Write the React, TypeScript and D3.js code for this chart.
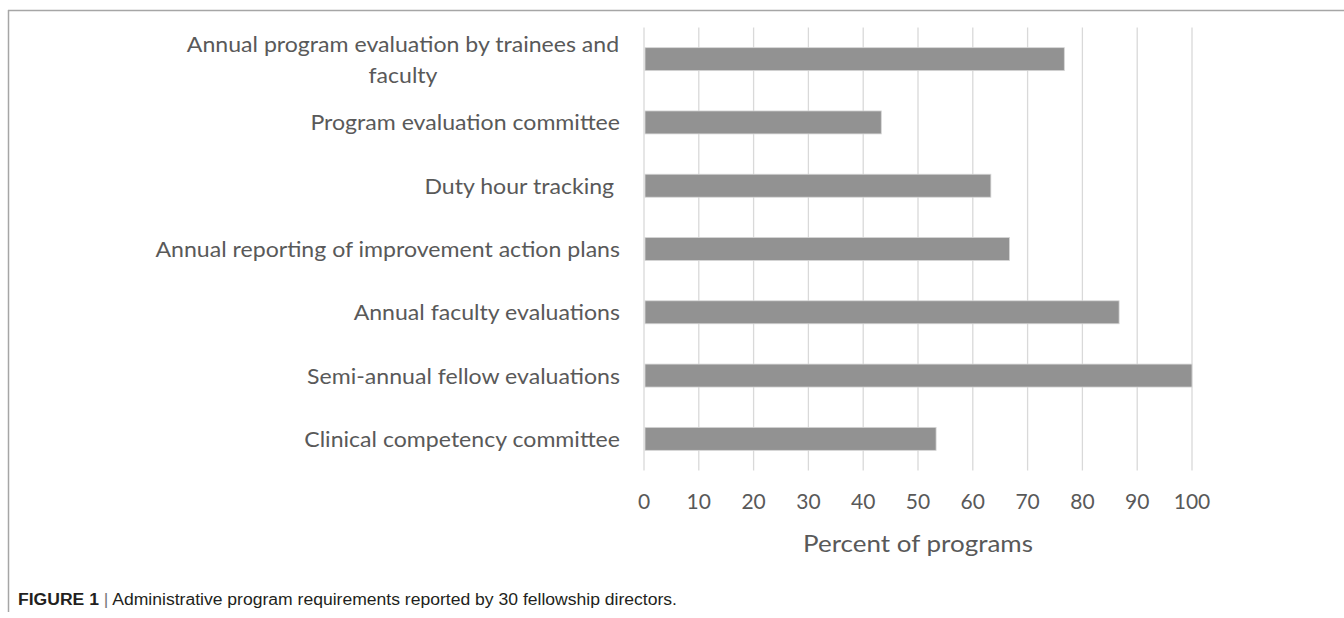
import React from "react";
import * as d3 from "d3";

const categories = [
  "Annual program evaluation by trainees and\nfaculty",
  "Program evaluation committee",
  "Duty hour tracking ",
  "Annual reporting of improvement action plans",
  "Annual faculty evaluations",
  "Semi-annual fellow evaluations",
  "Clinical competency committee",
];
const values = [76.7, 43.3, 63.3, 66.7, 86.7, 100, 53.3];
const xTicks = [0, 10, 20, 30, 40, 50, 60, 70, 80, 90, 100];
const xTitle = "Percent of programs";
const captionBold = "FIGURE 1";
const captionText = "Administrative program requirements reported by 30 fellowship directors.";

const W = 1344;
const H = 618;
const labelFont = "Lato, 'Open Sans', sans-serif";
const textColor = "#595959";
// the source figure is a bit stretched sideways
const labelStretch = 1.05;
const titleStretch = 1.13;

export default function App() {
  const x = d3.scaleLinear().domain([0, 100]).range([644, 1192]);
  const y = d3
    .scaleBand()
    .domain(categories)
    .range([27.5, 470.5])
    .paddingInner(0.637)
    .paddingOuter(0.3185);
  const bw = y.bandwidth();
  const labelRight = 620;
  const blockCenter = 403;

  return (
    <svg
      width={W}
      height={H}
      style={{ position: "absolute", left: 0, top: 0, background: "#fff" }}
    >
      {/* chart frame */}
      <line x1={8} x2={W} y1={10.5} y2={10.5} stroke="#a6a6a6" strokeWidth={1.5} />
      <line x1={8.5} x2={8.5} y1={10} y2={612} stroke="#a6a6a6" strokeWidth={1.5} />

      {/* grid */}
      <g>
        {xTicks.map((t) => (
          <line
            key={t}
            x1={x(t)}
            x2={x(t)}
            y1={27.5}
            y2={470.5}
            stroke="#d9d9d9"
            strokeWidth={1.3}
          />
        ))}
      </g>

      {/* bars */}
      <g>
        {categories.map((c, i) => (
          <rect
            key={c}
            x={x(0) + 1}
            y={y(c)}
            width={x(values[i]) - x(0) - 1}
            height={bw}
            fill="#929292"
            stroke="#d6d6d6"
            strokeWidth={0.8}
          />
        ))}
      </g>

      {/* category labels */}
      <g fontFamily={labelFont} fontSize={22} fill={textColor}>
        {categories.map((c) => {
          const lines = c.split("\n");
          const cy = (y(c) as number) + bw / 2;
          if (lines.length === 1) {
            return (
              <g key={c} transform={`translate(${labelRight},0) scale(${labelStretch},1)`}>
                <text x={0} y={cy + 8} textAnchor="end" style={{ whiteSpace: "pre" }}>
                  {c}
                </text>
              </g>
            );
          }
          return (
            <g key={c} transform={`translate(${blockCenter},0) scale(${labelStretch},1)`}>
              <text x={0} textAnchor="middle">
                {lines.map((l, j) => (
                  <tspan key={j} x={0} y={cy + 8 + (j - (lines.length - 1) / 2) * 31}>
                    {l}
                  </tspan>
                ))}
              </text>
            </g>
          );
        })}
      </g>

      {/* x tick labels */}
      <g fontFamily={labelFont} fontSize={21} fill={textColor}>
        {xTicks.map((t) => (
          <text key={t} x={x(t)} y={509} textAnchor="middle">
            {t}
          </text>
        ))}
      </g>
      <g transform={`translate(${(x(0) + x(100)) / 2},0) scale(${titleStretch},1)`}>
        <text
          x={0}
          y={552}
          textAnchor="middle"
          fontFamily={labelFont}
          fontSize={23}
          fill={textColor}
        >
          {xTitle}
        </text>
      </g>

      {/* caption */}
      <text
        x={18}
        y={605}
        fontFamily="'Liberation Sans', Arial, sans-serif"
        fontSize={16}
        fill="#231f20"
        textLength={659}
        lengthAdjust="spacingAndGlyphs"
      >
        <tspan fontWeight="bold">{captionBold}</tspan>
        <tspan fill="#777"> | </tspan>
        <tspan>{captionText}</tspan>
      </text>
    </svg>
  );
}
